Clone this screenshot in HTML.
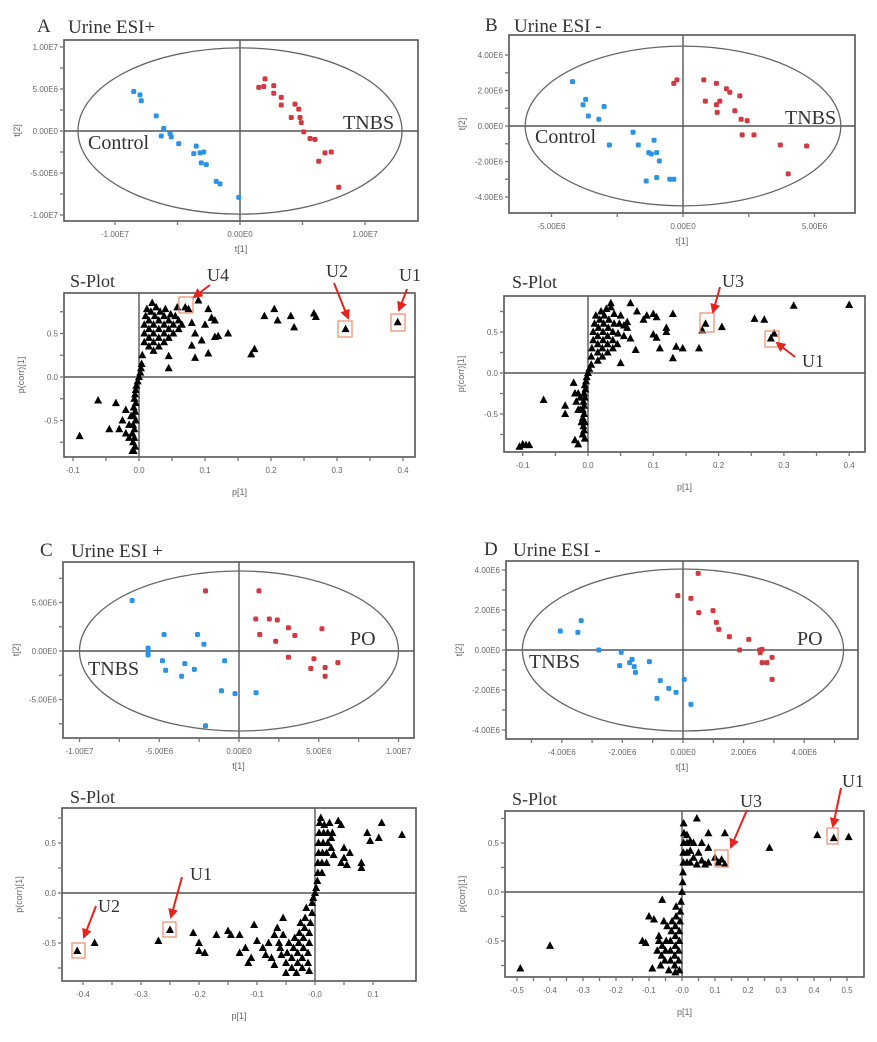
<!DOCTYPE html>
<html><head><meta charset="utf-8"><style>
html,body{margin:0;padding:0;background:#fff;}
svg{display:block;}
.tk{font-family:"Liberation Sans",sans-serif;font-size:8px;fill:#666;}
.ax{font-family:"Liberation Sans",sans-serif;font-size:9px;fill:#666;}
.sf{font-family:"Liberation Serif",serif;fill:#333;}
</style></head><body>
<svg id="fig" width="877" height="1042" viewBox="0 0 877 1042">
<g id="layer"></g>
<g id="annot">
<text class="sf" x="37" y="32" font-size="19">A</text>
<text class="sf" x="68" y="33" font-size="19">Urine ESI+</text>
<text class="sf" x="485" y="31" font-size="19">B</text>
<text class="sf" x="514" y="32" font-size="19">Urine ESI -</text>
<text class="sf" x="40" y="556" font-size="19">C</text>
<text class="sf" x="71" y="557" font-size="19">Urine ESI +</text>
<text class="sf" x="484" y="555" font-size="19">D</text>
<text class="sf" x="513" y="556" font-size="19">Urine ESI -</text>
<text class="sf" x="88" y="149" font-size="20">Control</text>
<text class="sf" x="343" y="129" font-size="20">TNBS</text>
<text class="sf" x="535" y="143" font-size="20">Control</text>
<text class="sf" x="785" y="124" font-size="20">TNBS</text>
<text class="sf" x="88" y="675" font-size="20">TNBS</text>
<text class="sf" x="350" y="645" font-size="20">PO</text>
<text class="sf" x="529" y="668" font-size="20">TNBS</text>
<text class="sf" x="797" y="645" font-size="20">PO</text>
<text class="sf" x="70" y="287" font-size="18">S-Plot</text>
<text class="sf" x="512" y="288" font-size="18">S-Plot</text>
<text class="sf" x="70" y="803" font-size="18">S-Plot</text>
<text class="sf" x="512" y="805" font-size="18">S-Plot</text>
<g fill="none" stroke="#f08a6a" stroke-width="1.2">
<rect x="179" y="297" width="14" height="16"/>
<rect x="338" y="321" width="14" height="16"/>
<rect x="391" y="314" width="14" height="17"/>
<rect x="700" y="313" width="14" height="19"/>
<rect x="765" y="331" width="14" height="16"/>
<rect x="163" y="922" width="13" height="15"/>
<rect x="72" y="943" width="13" height="15"/>
<rect x="715" y="850" width="13" height="17"/>
<rect x="827" y="828" width="11" height="16"/>
</g>
<defs><marker id="ah" viewBox="0 0 10 10" refX="8" refY="5" markerWidth="5" markerHeight="5" orient="auto"><path d="M0,0L10,5L0,10z" fill="#e8221c"/></marker></defs>
<g stroke="#e8221c" stroke-width="2" marker-end="url(#ah)">
<line x1="210" y1="285" x2="194" y2="297"/>
<line x1="334" y1="283" x2="348" y2="318"/>
<line x1="407" y1="289" x2="399" y2="310"/>
<line x1="720" y1="287" x2="713" y2="312"/>
<line x1="795" y1="357" x2="777" y2="343"/>
<line x1="182" y1="877" x2="171" y2="917"/>
<line x1="96" y1="906" x2="84" y2="937"/>
<line x1="747" y1="810" x2="731" y2="847"/>
<line x1="841" y1="788" x2="833" y2="826"/>
</g>
<text class="sf" x="207" y="281" font-size="18">U4</text>
<text class="sf" x="326" y="277" font-size="18">U2</text>
<text class="sf" x="399" y="281" font-size="18">U1</text>
<text class="sf" x="722" y="287" font-size="18">U3</text>
<text class="sf" x="802" y="367" font-size="18">U1</text>
<text class="sf" x="190" y="880" font-size="18">U1</text>
<text class="sf" x="98" y="912" font-size="18">U2</text>
<text class="sf" x="740" y="807" font-size="18">U3</text>
<text class="sf" x="842" y="787" font-size="18">U1</text>
</g>
</svg>
<script>
// ===== Score plot data (units of 1e6) =====
const scoreA_control = [[-8.5,4.7],[-8.0,4.3],[-7.9,3.6],[-6.7,1.8],[-6.1,0.3],[-6.3,-0.6],[-5.6,-0.3],[-5.5,-0.7],[-4.9,-1.5],[-3.5,-1.8],[-3.7,-2.7],[-3.2,-2.6],[-2.9,-2.5],[-3.1,-3.8],[-2.7,-4.0],[-1.9,-6.0],[-1.6,-6.3],[-0.1,-7.9]];
const scoreA_tnbs = [[1.5,5.2],[2.0,6.2],[1.9,5.3],[2.7,5.4],[2.7,4.5],[3.3,4.0],[3.3,3.1],[4.4,3.2],[4.7,2.6],[4.1,1.6],[4.8,1.6],[4.9,1.0],[5.1,-0.1],[5.6,-0.9],[6.0,-1.0],[6.8,-2.6],[7.3,-2.5],[6.3,-3.6],[7.9,-6.7]];
const scoreB_control = [[-4.2,2.5],[-3.7,1.5],[-3.8,1.2],[-3.6,0.56],[-3.2,0.38],[-3.0,1.1],[-2.8,-1.07],[-1.9,-0.35],[-1.7,-1.07],[-1.1,-0.8],[-1.3,-1.5],[-1.2,-1.58],[-1.0,-1.5],[-0.9,-1.97],[-1.0,-2.9],[-1.4,-3.1],[-0.5,-3.0],[-0.35,-3.0]];
const scoreB_tnbs = [[-0.35,2.4],[-0.23,2.6],[0.79,2.6],[1.27,2.4],[1.65,2.1],[1.78,1.9],[2.16,1.7],[0.85,1.4],[1.27,1.2],[1.4,1.4],[1.3,0.77],[1.97,0.86],[2.21,0.38],[2.44,0.3],[2.25,-0.5],[2.7,-0.5],[3.7,-1.07],[4.7,-1.13],[4.0,-2.7]];
const scoreC_tnbs = [[-6.7,5.2],[-4.7,1.7],[-2.6,1.7],[-2.2,0.7],[-5.7,0.3],[-5.7,-0.07],[-5.7,-0.4],[-4.8,-1.0],[-4.6,-2.0],[-3.4,-1.3],[-2.8,-1.9],[-3.6,-2.6],[-0.9,-1.0],[-1.1,-4.1],[-0.25,-4.4],[1.07,-4.3],[-2.1,-7.7]];
const scoreC_po = [[-2.1,6.2],[1.25,6.2],[1.05,3.3],[1.9,3.3],[2.4,3.2],[1.3,1.7],[2.3,1.0],[3.1,2.4],[3.5,1.6],[5.2,2.3],[3.1,-0.65],[4.7,-0.8],[4.5,-1.8],[5.4,-1.7],[6.2,-1.2],[5.4,-2.6]];
const scoreD_tnbs = [[-4.05,0.95],[-3.47,0.88],[-3.36,1.47],[-2.78,0],[-2.04,-0.12],[-2.09,-0.78],[-1.76,-0.63],[-1.68,-0.47],[-1.61,-0.83],[-1.57,-1.12],[-1.11,-0.58],[-0.75,-1.53],[-0.47,-1.92],[-0.23,-2.12],[-0.86,-2.42],[0.04,-1.47],[0.26,-2.72]];
const scoreD_po = [[0.5,3.83],[-0.17,2.72],[0.26,2.58],[0.52,1.87],[0.99,1.97],[1.1,1.38],[1.18,1.03],[1.53,0.67],[2.17,0.53],[1.87,0],[2.53,0],[2.61,0.03],[2.55,-0.13],[2.61,-0.63],[2.77,-0.63],[2.94,-0.37],[2.94,-1.47]];

// ===== S-plot data [p1, pcorr] =====
const sA_cloud = [[0.008,0.4],[0.008,0.5],[0.008,0.6],[0.01,0.7],[0.012,0.78],[0.015,0.35],[0.015,0.45],[0.015,0.55],[0.015,0.65],[0.018,0.75],[0.02,0.85],[0.022,0.3],[0.022,0.4],[0.022,0.5],[0.022,0.6],[0.024,0.7],[0.026,0.8],[0.03,0.35],[0.03,0.45],[0.03,0.55],[0.03,0.65],[0.032,0.75],[0.038,0.4],[0.038,0.5],[0.038,0.6],[0.038,0.7],[0.04,0.78],[0.045,0.45],[0.045,0.55],[0.045,0.65],[0.048,0.72],[0.052,0.5],[0.052,0.6],[0.055,0.7],[0.058,0.8],[0.06,0.55],[0.06,0.65],[0.005,0.25],[0.004,0.15],[0.003,0.1],[0.002,0.05],[0,0],[-0.002,-0.05],[-0.004,-0.1],[-0.005,-0.15],[-0.006,-0.2],[-0.007,-0.25],[-0.005,-0.3],[-0.008,-0.35],[-0.006,-0.4],[-0.008,-0.45],[-0.005,-0.5],[-0.009,-0.55],[-0.007,-0.6],[-0.01,-0.65],[-0.007,-0.7],[-0.009,-0.75],[-0.006,-0.8],[-0.008,-0.85]];
const sA_out = [[-0.09,-0.68],[-0.062,-0.27],[-0.045,-0.6],[-0.035,-0.3],[-0.03,-0.6],[-0.025,-0.5],[-0.02,-0.65],[-0.015,-0.55],[-0.02,-0.38],[-0.012,-0.45],[-0.015,-0.7],[-0.01,-0.85],[0.09,0.88],[0.075,0.78],[0.07,0.8],[0.08,0.62],[0.1,0.6],[0.105,0.78],[0.11,0.68],[0.115,0.65],[0.12,0.47],[0.115,0.46],[0.135,0.5],[0.105,0.27],[0.085,0.22],[0.08,0.36],[0.045,0.24],[0.045,0.1],[0.065,0.6],[0.085,0.5],[0.095,0.42],[0.17,0.26],[0.175,0.32],[0.19,0.7],[0.205,0.78],[0.21,0.65],[0.23,0.7],[0.235,0.57],[0.265,0.73],[0.268,0.69],[0.313,0.55],[0.392,0.63]];
const sB_cloud = [[0.005,0.1],[0.005,0.2],[0.006,0.3],[0.008,0.4],[0.008,0.5],[0.01,0.6],[0.012,0.7],[0.015,0.15],[0.015,0.25],[0.015,0.35],[0.015,0.45],[0.016,0.55],[0.018,0.65],[0.02,0.75],[0.022,0.2],[0.022,0.3],[0.023,0.4],[0.023,0.5],[0.024,0.6],[0.025,0.7],[0.028,0.78],[0.03,0.25],[0.03,0.35],[0.03,0.45],[0.031,0.55],[0.032,0.65],[0.035,0.8],[0.038,0.3],[0.038,0.4],[0.038,0.5],[0.04,0.6],[0.04,0.72],[0.045,0.35],[0.046,0.48],[0.048,0.6],[0.05,0.7],[0.055,0.45],[0.055,0.58],[0.06,0.62],[0.002,0.05],[0,0],[-0.002,-0.05],[-0.003,-0.1],[-0.005,-0.15],[-0.004,-0.2],[-0.006,-0.25],[-0.005,-0.3],[-0.007,-0.35],[-0.006,-0.4],[-0.008,-0.45],[-0.006,-0.5],[-0.008,-0.55],[-0.005,-0.6],[-0.007,-0.65],[-0.006,-0.7],[-0.008,-0.75],[-0.005,-0.8],[-0.012,-0.3],[-0.012,-0.45],[-0.015,-0.25]];
const sB_out = [[-0.105,-0.9],[-0.1,-0.87],[-0.095,-0.88],[-0.09,-0.88],[-0.068,-0.33],[-0.035,-0.4],[-0.035,-0.5],[-0.022,-0.12],[-0.02,-0.25],[-0.018,-0.35],[-0.015,-0.45],[-0.02,-0.82],[-0.015,-0.87],[-0.01,-0.6],[-0.008,-0.75],[0.035,0.85],[0.065,0.85],[0.075,0.75],[0.085,0.65],[0.09,0.7],[0.1,0.72],[0.105,0.68],[0.1,0.47],[0.105,0.43],[0.11,0.3],[0.12,0.55],[0.12,0.5],[0.13,0.72],[0.13,0.18],[0.135,0.32],[0.145,0.3],[0.17,0.3],[0.073,0.28],[0.05,0.12],[0.06,0.55],[0.065,0.42],[0.175,0.52],[0.18,0.6],[0.205,0.56],[0.255,0.66],[0.27,0.65],[0.28,0.42],[0.285,0.48],[0.315,0.82],[0.4,0.83]];
const sC_cloud = [[-0.005,-0.1],[-0.005,-0.2],[-0.008,-0.3],[-0.01,-0.4],[-0.01,-0.5],[-0.012,-0.6],[-0.012,-0.7],[-0.01,-0.78],[-0.015,-0.15],[-0.017,-0.25],[-0.018,-0.35],[-0.02,-0.45],[-0.02,-0.55],[-0.022,-0.65],[-0.022,-0.75],[-0.025,-0.3],[-0.027,-0.4],[-0.028,-0.5],[-0.03,-0.6],[-0.03,-0.7],[-0.032,-0.8],[-0.035,-0.45],[-0.037,-0.55],[-0.04,-0.65],[-0.04,-0.75],[-0.045,-0.5],[-0.048,-0.6],[-0.05,-0.7],[-0.055,-0.42],[-0.058,-0.62],[-0.062,-0.5],[-0.003,-0.05],[0,0],[0.002,0.05],[0.004,0.12],[0.005,0.2],[0.005,0.3],[0.006,0.4],[0.006,0.5],[0.007,0.6],[0.008,0.7],[0.01,0.75],[0.012,0.2],[0.012,0.3],[0.013,0.4],[0.014,0.5],[0.015,0.6],[0.016,0.68],[0.02,0.3],[0.02,0.4],[0.022,0.5],[0.022,0.6],[0.025,0.7],[0.028,0.45],[0.028,0.55],[0.032,0.38]];
const sC_out = [[-0.41,-0.58],[-0.38,-0.5],[-0.27,-0.48],[-0.25,-0.37],[-0.21,-0.4],[-0.2,-0.5],[-0.2,-0.58],[-0.19,-0.6],[-0.17,-0.42],[-0.15,-0.38],[-0.145,-0.42],[-0.13,-0.42],[-0.13,-0.6],[-0.12,-0.55],[-0.115,-0.7],[-0.11,-0.65],[-0.105,-0.32],[-0.1,-0.48],[-0.09,-0.55],[-0.085,-0.62],[-0.08,-0.5],[-0.075,-0.65],[-0.07,-0.42],[-0.07,-0.72],[-0.065,-0.35],[-0.06,-0.55],[-0.055,-0.25],[-0.05,-0.8],[0.03,0.6],[0.04,0.72],[0.045,0.68],[0.05,0.45],[0.05,0.35],[0.06,0.4],[0.045,0.3],[0.055,0.28],[0.08,0.3],[0.08,0.25],[0.09,0.6],[0.095,0.52],[0.11,0.55],[0.115,0.7],[0.15,0.58]];
const sD_cloud = [[0,0],[0.002,0.1],[0.003,0.2],[0.004,0.3],[0.004,0.4],[0.005,0.5],[0.006,0.6],[0.005,0.7],[0.015,0.3],[0.015,0.4],[0.015,0.5],[0.015,0.58],[0.025,0.3],[0.025,0.42],[0.025,0.52],[0.035,0.35],[0.035,0.5],[0.045,0.28],[0.05,0.4],[0.06,0.32],[0.06,0.5],[0.07,0.28],[0.08,0.3],[-0.003,-0.1],[-0.005,-0.2],[-0.006,-0.3],[-0.008,-0.4],[-0.008,-0.5],[-0.01,-0.6],[-0.01,-0.7],[-0.008,-0.8],[-0.018,-0.15],[-0.018,-0.25],[-0.02,-0.35],[-0.02,-0.45],[-0.02,-0.55],[-0.022,-0.65],[-0.022,-0.75],[-0.02,-0.82],[-0.03,-0.3],[-0.032,-0.4],[-0.035,-0.5],[-0.035,-0.6],[-0.035,-0.7],[-0.04,-0.8],[-0.045,-0.35],[-0.048,-0.5],[-0.05,-0.6],[-0.052,-0.7],[-0.06,-0.55],[-0.062,-0.65],[-0.065,-0.75],[-0.07,-0.5],[-0.075,-0.6]];
const sD_out = [[-0.49,-0.78],[-0.4,-0.55],[-0.12,-0.5],[-0.11,-0.52],[-0.1,-0.25],[-0.09,-0.78],[-0.085,-0.28],[-0.07,-0.45],[-0.06,-0.08],[-0.055,-0.3],[0.045,0.75],[0.08,0.45],[0.08,0.6],[0.1,0.35],[0.11,0.3],[0.12,0.33],[0.13,0.6],[0.13,0.28],[0.265,0.45],[0.41,0.58],[0.46,0.55],[0.505,0.56]];

// ===== Tick values / labels =====
const tA_x = [-10,-5,0,5,10]; const tA_xl = ["-1.00E7","","0.00E0","","1.00E7"];
const tA_y = [10,7.5,5,2.5,0,-2.5,-5,-7.5,-10]; const tA_yl = ["1.00E7","","5.00E6","","0.00E0","","-5.00E6","","-1.00E7"];
const tB_x = [-5,-2.5,0,2.5,5]; const tB_xl = ["-5.00E6","","0.00E0","","5.00E6"];
const tB_y = [4,3,2,1,0,-1,-2,-3,-4]; const tB_yl = ["4.00E6","","2.00E6","","0.00E0","","-2.00E6","","-4.00E6"];
const tC_x = [-10,-7.5,-5,-2.5,0,2.5,5,7.5,10]; const tC_xl = ["-1.00E7","","-5.00E6","","0.00E0","","5.00E6","","1.00E7"];
const tC_y = [7.5,5,2.5,0,-2.5,-5,-7.5]; const tC_yl = ["","5.00E6","","0.00E0","","-5.00E6",""];
const tD_x = [-5,-4,-3,-2,-1,0,1,2,3,4,5]; const tD_xl = ["","-4.00E6","","-2.00E6","","0.00E0","","2.00E6","","4.00E6",""];
const tD_y = [4,3,2,1,0,-1,-2,-3,-4]; const tD_yl = ["4.00E6","","2.00E6","","0.00E0","","-2.00E6","","-4.00E6"];
const tS_y = [0.75,0.5,0.25,0,-0.25,-0.5,-0.75]; const tS_yl = ["","0.5","","0.0","","-0.5",""];
const tSA_x = [-0.1,-0.05,0,0.05,0.1,0.15,0.2,0.25,0.3,0.35,0.4]; const tSA_xl = ["-0.1","","0.0","","0.1","","0.2","","0.3","","0.4"];
const tSC_x = [-0.4,-0.35,-0.3,-0.25,-0.2,-0.15,-0.1,-0.05,0,0.05,0.1]; const tSC_xl = ["-0.4","","-0.3","","-0.2","","-0.1","","-0.0","","0.1"];
const tSD_x = [-0.5,-0.45,-0.4,-0.35,-0.3,-0.25,-0.2,-0.15,-0.1,-0.05,0,0.05,0.1,0.15,0.2,0.25,0.3,0.35,0.4,0.45,0.5]; const tSD_xl = ["-0.5","","-0.4","","-0.3","","-0.2","","-0.1","","-0.0","","0.1","","0.2","","0.3","","0.4","","0.5"];
const ellA = [12.96,9.9], ellB = [6.0,4.5], ellC = [10.0,8.25], ellD = [5.3,4.05];

const NS = "http://www.w3.org/2000/svg";
const layer = document.getElementById('layer');
function mk(tag, attrs, parent){ const e=document.createElementNS(NS,tag); for(const k in attrs) e.setAttribute(k,attrs[k]); (parent||layer).appendChild(e); return e; }

function frame(g, P, xt, xtl, yt, ytl, xTitle, yTitle){
  const fx=v=>P.x0+P.kx*v, fy=v=>P.y0-P.ky*v;
  const bx = mk('rect',{x:P.L,y:P.T,width:P.R-P.L,height:P.B-P.T,fill:'none',stroke:'#555','stroke-width':1.6},g);
  
  
  const h = mk('line',{x1:P.L,x2:P.R,y1:fy(0),y2:fy(0),stroke:'#555','stroke-width':1.4},g);
  
  
  const v = mk('line',{x1:fx(0),x2:fx(0),y1:P.T,y2:P.B,stroke:'#555','stroke-width':1.4},g);
  
  
  xt.forEach((t,i)=>{ const x=fx(t);
    mk('line',{x1:x,x2:x,y1:P.B,y2:P.B+4,stroke:'#777','stroke-width':1.3},g);
    if(xtl[i]){ const tx=mk('text',{x:x,y:P.B+16,'text-anchor':'middle',class:'tk'},g); tx.textContent=xtl[i];
      
       }
  });
  yt.forEach((t,i)=>{ const y=fy(t);
    mk('line',{x1:P.L-4,x2:P.L,y1:y,y2:y,stroke:'#777','stroke-width':1.3},g);
    if(ytl[i]){ const tx=mk('text',{x:P.L-6,y:y+3,'text-anchor':'end',class:'tk'},g); tx.textContent=ytl[i];
      
       }
  });
  const xa=mk('text',{x:(P.L+P.R)/2,y:P.B+P.xtOff,'text-anchor':'middle',class:'ax'},g); xa.textContent=xTitle;
  
  
  const yx=P.L-P.ytOff, yy=(P.T+P.B)/2;
  const ya=mk('text',{x:yx,y:yy,'text-anchor':'middle',class:'ax',transform:`rotate(-90 ${yx} ${yy})`},g); ya.textContent=yTitle;
  
  
  return [fx,fy];
}

function scorePlot(name,P,grpL,grpR,ell,xt,xtl,yt,ytl){
  const g=mk('g',{});
  
  
  const [fx,fy]=frame(g,P,xt,xtl,yt,ytl,'t[1]','t[2]');
  const el=mk('ellipse',{cx:fx(0),cy:fy(0),rx:P.kx*ell[0],ry:P.ky*ell[1],fill:'none',stroke:'#666','stroke-width':1.3},g);
  
  
  grpL.forEach(d=>{ const c=mk('rect',{x:fx(d[0])-2.5,y:fy(d[1])-2.5,width:5,height:5,rx:1.5,fill:'#2a93e6'},g);
    
     });
  grpR.forEach(d=>{ const c=mk('rect',{x:fx(d[0])-2.5,y:fy(d[1])-2.5,width:5,height:5,rx:1.5,fill:'#d2383f'},g);
    
     });
}

function sPlot(name,P,cloud,out,xt,xtl){
  const g=mk('g',{});
  
  
  const [fx,fy]=frame(g,P,xt,xtl,tS_y,tS_yl,'p[1]','p(corr)[1]');
  cloud.concat(out).forEach(d=>{ const x=fx(d[0]), y=fy(d[1]);
    const t=mk('path',{d:`M${x},${y-4.5}L${x+4},${y+3}L${x-4},${y+3}Z`,fill:'#000'},g);
    
     });
}

const base={xtOff:31,ytOff:44};
scorePlot('score-plot-a',{...base,L:64,R:418,T:40,B:221,x0:240,kx:12.5,y0:131,ky:8.4},scoreA_control,scoreA_tnbs,ellA,tA_x,tA_xl,tA_y,tA_yl);
scorePlot('score-plot-b',{...base,L:509,R:855,T:35,B:213,x0:683,kx:26.3,y0:126,ky:17.75},scoreB_control,scoreB_tnbs,ellB,tB_x,tB_xl,tB_y,tB_yl);
scorePlot('score-plot-c',{...base,L:63,R:414,T:562,B:738,x0:239,kx:15.95,y0:651,ky:9.7},scoreC_tnbs,scoreC_po,ellC,tC_x,tC_xl,tC_y,tC_yl);
scorePlot('score-plot-d',{...base,L:506,R:858,T:561,B:739,x0:683,kx:30.3,y0:650,ky:20},scoreD_tnbs,scoreD_po,ellD,tD_x,tD_xl,tD_y,tD_yl);
const sb={xtOff:38,ytOff:40};
sPlot('s-plot-a',{...sb,L:64,R:415,T:293,B:457,x0:139,kx:660,y0:377,ky:87},sA_cloud,sA_out,tSA_x,tSA_xl);
sPlot('s-plot-b',{...sb,L:504,R:865,T:296,B:452,x0:588,kx:653,y0:373,ky:82},sB_cloud,sB_out,tSA_x,tSA_xl);
sPlot('s-plot-c',{...sb,L:62,R:416,T:808,B:981,x0:315,kx:580,y0:893,ky:100},sC_cloud,sC_out,tSC_x,tSC_xl);
sPlot('s-plot-d',{...sb,L:505,R:864,T:811,B:977,x0:682,kx:330,y0:892,ky:98},sD_cloud,sD_out,tSD_x,tSD_xl);
</script>
</body></html>
